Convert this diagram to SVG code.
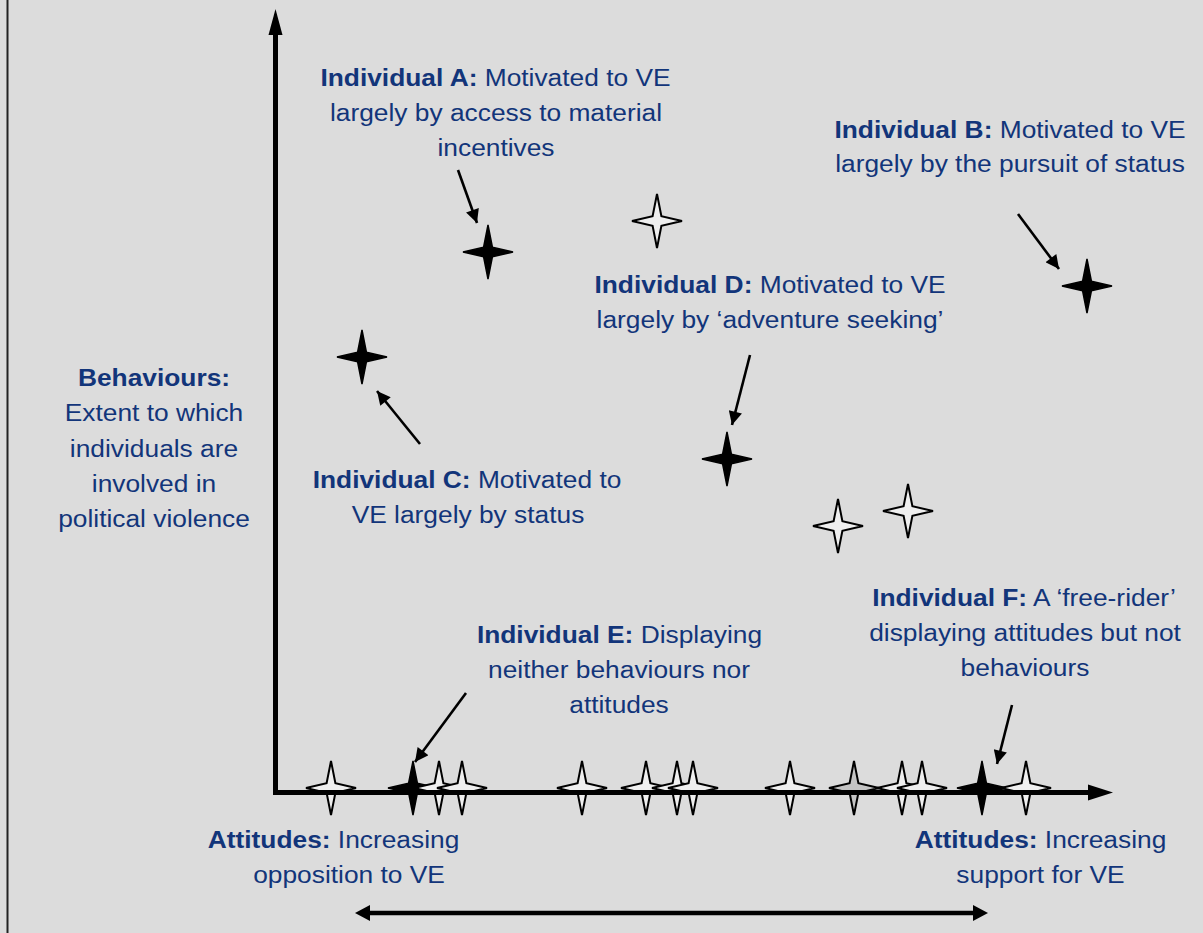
<svg xmlns="http://www.w3.org/2000/svg" xmlns:xlink="http://www.w3.org/1999/xlink" width="1203" height="933" viewBox="0 0 1203 933">
<style>
.t{font-family:"Liberation Sans",Arial,sans-serif;font-size:24.5px;fill:#12357a;text-anchor:middle}
.b{font-weight:bold}
.open{fill:#efefef;stroke:#000;stroke-width:2;stroke-linejoin:miter}
.blk{fill:#000;stroke:#000;stroke-width:1.5}
.gry{fill:#c4c4c4;stroke:#000;stroke-width:2}
.ptr{stroke:#000;stroke-width:2.6;fill:none}
.axis{stroke:#000;stroke-width:5;fill:none}
</style>
<defs>
<path id="star" d="M0,-27 L4.4,-4.8 L25,0 L4.4,4.8 L0,27 L-4.4,4.8 L-25,0 L-4.4,-4.8 Z"/>
<marker id="ah" viewBox="0 0 10 10" refX="10" refY="5" markerWidth="6" markerHeight="5.2" orient="auto" markerUnits="strokeWidth">
<path d="M0,0 L10,5 L0,10 Z" fill="#000"/>
</marker>
</defs>
<rect x="0" y="0" width="1203" height="933" fill="#dcdcdc"/>
<line x1="7.5" y1="0" x2="7.5" y2="933" stroke="#222" stroke-width="2"/>

<g id="stars-axis">
<use xlink:href="#star" class="open" x="331" y="788"/>
<use xlink:href="#star" class="blk" x="413" y="788"/>
<use xlink:href="#star" class="open" x="439" y="788"/>
<use xlink:href="#star" class="open" x="462" y="788"/>
<use xlink:href="#star" class="open" x="582" y="788"/>
<use xlink:href="#star" class="open" x="646" y="788"/>
<use xlink:href="#star" class="open" x="677" y="788"/>
<use xlink:href="#star" class="open" x="693" y="788"/>
<use xlink:href="#star" class="open" x="790" y="788"/>
<use xlink:href="#star" class="gry" x="854" y="788"/>
<use xlink:href="#star" class="open" x="902" y="788"/>
<use xlink:href="#star" class="open" x="922" y="788"/>
<use xlink:href="#star" class="blk" x="982" y="788"/>
<use xlink:href="#star" class="open" x="1026" y="788"/>
</g>

<g id="axes">
<line class="axis" x1="275.5" y1="795" x2="275.5" y2="32"/>
<path d="M268.5,35 L275.5,9 L282.5,35 Z" fill="#000"/>
<line class="axis" x1="273" y1="792.5" x2="1090" y2="792.5"/>
<path d="M1088,784.5 L1113,792.5 L1088,800.5 Z" fill="#000"/>
<line x1="362" y1="913" x2="980" y2="913" stroke="#000" stroke-width="4.5"/>
<path d="M370,905 L355,913 L370,921 Z" fill="#000"/>
<path d="M973,905 L988,913 L973,921 Z" fill="#000"/>
</g>

<g id="stars-field">
<use xlink:href="#star" class="blk" x="488" y="252"/>
<use xlink:href="#star" class="open" x="657" y="221"/>
<use xlink:href="#star" class="blk" x="1087" y="286"/>
<use xlink:href="#star" class="blk" x="362" y="357"/>
<use xlink:href="#star" class="blk" x="727" y="459"/>
<use xlink:href="#star" class="open" x="838" y="526"/>
<use xlink:href="#star" class="open" x="908" y="511"/>
</g>

<g id="connectors">
<line class="ptr" x1="458" y1="170" x2="477" y2="223" marker-end="url(#ah)"/>
<line class="ptr" x1="1018" y1="214" x2="1059" y2="269" marker-end="url(#ah)"/>
<line class="ptr" x1="420" y1="444" x2="377" y2="391" marker-end="url(#ah)"/>
<line class="ptr" x1="750" y1="355" x2="732" y2="425" marker-end="url(#ah)"/>
<line class="ptr" x1="466" y1="693" x2="415" y2="762" marker-end="url(#ah)"/>
<line class="ptr" x1="1012" y1="705" x2="997" y2="764" marker-end="url(#ah)"/>
</g>

<g id="label-A">
<text class="t" transform="translate(495.5,86) scale(1.075,1)"><tspan class="b">Individual A:</tspan> Motivated to VE</text>
<text class="t" transform="translate(496,121) scale(1.075,1)">largely by access to material</text>
<text class="t" transform="translate(496,156) scale(1.075,1)">incentives</text>
</g>
<g id="label-B">
<text class="t" transform="translate(1010,138) scale(1.075,1)"><tspan class="b">Individual B:</tspan> Motivated to VE</text>
<text class="t" transform="translate(1010,172) scale(1.075,1)">largely by the pursuit of status</text>
</g>
<g id="label-D">
<text class="t" transform="translate(770,293) scale(1.075,1)"><tspan class="b">Individual D:</tspan> Motivated to VE</text>
<text class="t" transform="translate(770,328) scale(1.075,1)">largely by ‘adventure seeking’</text>
</g>
<g id="label-behaviours">
<text class="t" transform="translate(154,386) scale(1.075,1)"><tspan class="b">Behaviours:</tspan></text>
<text class="t" transform="translate(154,421) scale(1.075,1)">Extent to which</text>
<text class="t" transform="translate(154,456.5) scale(1.075,1)">individuals are</text>
<text class="t" transform="translate(154,492) scale(1.075,1)">involved in</text>
<text class="t" transform="translate(154,527) scale(1.075,1)">political violence</text>
</g>
<g id="label-C">
<text class="t" transform="translate(467,488) scale(1.075,1)"><tspan class="b">Individual C:</tspan> Motivated to</text>
<text class="t" transform="translate(468,523) scale(1.075,1)">VE largely by status</text>
</g>
<g id="label-E">
<text class="t" transform="translate(619.5,643) scale(1.075,1)"><tspan class="b">Individual E:</tspan> Displaying</text>
<text class="t" transform="translate(619,678) scale(1.075,1)">neither behaviours nor</text>
<text class="t" transform="translate(619,713) scale(1.075,1)">attitudes</text>
</g>
<g id="label-F">
<text class="t" transform="translate(1024,606) scale(1.075,1)"><tspan class="b">Individual F:</tspan> A ‘free-rider’</text>
<text class="t" transform="translate(1025,641) scale(1.075,1)">displaying attitudes but not</text>
<text class="t" transform="translate(1025,676) scale(1.075,1)">behaviours</text>
</g>
<g id="label-att-left">
<text class="t" transform="translate(333.5,848) scale(1.075,1)"><tspan class="b">Attitudes:</tspan> Increasing</text>
<text class="t" transform="translate(349,883) scale(1.075,1)">opposition to VE</text>
</g>
<g id="label-att-right">
<text class="t" transform="translate(1040.5,848) scale(1.075,1)"><tspan class="b">Attitudes:</tspan> Increasing</text>
<text class="t" transform="translate(1040.5,883) scale(1.075,1)">support for VE</text>
</g>
</svg>
